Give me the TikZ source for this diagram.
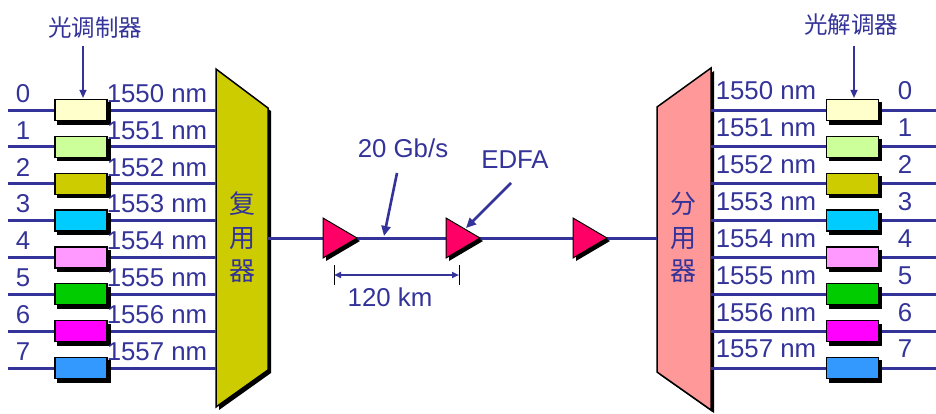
\documentclass[tikz,border=0pt]{standalone}
\usepackage{fontspec}
\setmainfont{Liberation Sans}
\newfontfamily\cjk{Noto Sans CJK SC}
\usetikzlibrary{arrows.meta,calc}
\definecolor{ink}{HTML}{333399}
\definecolor{muxfill}{HTML}{CCCC00}
\definecolor{demuxfill}{HTML}{FF9999}
\definecolor{ampfill}{HTML}{FF0066}
\definecolor{c0}{HTML}{FFFFCC}
\definecolor{c1}{HTML}{CCFF99}
\definecolor{c2}{HTML}{CCCC00}
\definecolor{c3}{HTML}{00CCFF}
\definecolor{c4}{HTML}{FF99FF}
\definecolor{c5}{HTML}{00CC00}
\definecolor{c6}{HTML}{FF00FF}
\definecolor{c7}{HTML}{3399FF}
\begin{document}
\begin{tikzpicture}[x=1pt,y=-1pt,
  txt/.style={text=ink, font=\fontsize{25.8}{30}\selectfont, inner sep=0pt},
  cjktxt/.style={text=ink, font=\cjk\fontsize{23.5}{26}\selectfont, inner sep=0pt},
  boxtxt/.style={text=ink, font=\cjk\fontsize{26}{33.5}\selectfont, inner sep=0pt, align=center},
  fiber/.style={draw=ink, line width=3pt},
  modbox/.style={draw=black, line width=1.2pt, minimum width=52pt, minimum height=21pt, inner sep=0pt},
  thinarrow/.style={draw=ink, line width=1.3pt, -{Triangle[length=8pt,width=7pt]}},
  bigarrow/.style={draw=ink, line width=2.6pt, -{Triangle[length=10pt,width=9pt]}},
  dimarrow/.style={draw=ink, line width=2pt, {Triangle[length=7pt,width=6pt]}-{Triangle[length=7pt,width=6pt]}},
  tick/.style={draw=black, line width=0.9pt},
  pics/ampli/.style={code={
    \fill[black] (-14,-17) -- (20,3) -- (-14,23) -- cycle;
    \filldraw[fill=ampfill,draw=black,line width=1pt] (-17,-20) -- (17,0) -- (-17,20) -- cycle;
  }}]
\useasboundingbox (0,0) rectangle (936,413);
\fill[white] (0,0) rectangle (936,413);

% multiplexer
\fill[black] (219,72) -- (271,111) -- (271,373) -- (219,410) -- cycle;
\filldraw[fill=muxfill,draw=black,line width=1.5pt] (216,69) -- (268,108) -- (268,370) -- (216,407) -- cycle;
\node[boxtxt] (mux) at (242,237.5) {复\\用\\器};

% demultiplexer
\fill[black] (660,110) -- (714,71) -- (714,413) -- (660,375) -- cycle;
\filldraw[fill=demuxfill,draw=black,line width=1.5pt] (657,107) -- (711,68) -- (711,410) -- (657,372) -- cycle;
\node[boxtxt] (demux) at (683,237.5) {分\\用\\器};

\foreach \i in {0,...,7} {
  \pgfmathsetmacro\yy{110+\i*36.86}
  \pgfmathtruncatemacro\wl{1550+\i}
  % left side
  \coordinate (inL\i) at (8,\yy);
  \coordinate (muxin\i) at (216,\yy);
  \draw[fiber] (inL\i) -- (muxin\i);
  \node[modbox, fill=black] (shm\i) at (84,\yy+3.5) {};
  \node[modbox, fill=c\i] (mod\i) at (81,\yy) {};
  \node[txt] (nl\i) at (23,\yy-16.5) {\i};
  \node[txt] (wl\i) at (157,\yy-16.5) {\wl\ nm};
  % right side
  \coordinate (demuxout\i) at (711,\yy);
  \coordinate (outR\i) at (936,\yy);
  \draw[fiber] (demuxout\i) -- (outR\i);
  \node[modbox, fill=black] (shd\i) at (855.5,\yy+3.5) {};
  \node[modbox, fill=c\i] (dem\i) at (852.5,\yy) {};
  \node[txt] (nr\i) at (905,\yy-19) {\i};
  \node[txt] (wr\i) at (766,\yy-19) {\wl\ nm};
}

% labels of modulators
\node[cjktxt] (modlbl) at (95,28) {光调制器};
\draw[thinarrow] ($(mod0.north)+(2,-53)$) -- ($(mod0.north)+(2,-1)$);
\node[cjktxt] (demlbl) at (851,25) {光解调器};
\draw[thinarrow] ($(dem0.north)+(1.5,-53)$) -- ($(dem0.north)+(1.5,-1)$);

% trunk fibre
\coordinate (muxout) at (268,238);
\coordinate (demuxin) at (657,238);
\draw[fiber] (muxout) -- (demuxin);
\pic at (340,238) {ampli};
\pic at (463,238) {ampli};
\pic at (590,238) {ampli};

% 20 Gb/s
\node[txt] (rate) at (403,148) {20 Gb/s};
\coordinate (rateTail) at (397,173);
\coordinate (rateTip) at (384,236);
\draw[bigarrow] (rateTail) -- (rateTip);

% EDFA
\node[txt] (edfa) at (515,160) {EDFA};
\coordinate (edfaTail) at (511,183);
\coordinate (edfaTip) at (466,228);
\draw[bigarrow] (edfaTail) -- (edfaTip);

% span dimension
\coordinate (dimA) at (334,275);
\coordinate (dimB) at (459,275);
\draw[tick] ($(dimA)+(0,-10)$) -- ($(dimA)+(0,10)$);
\draw[tick] ($(dimB)+(0,-10)$) -- ($(dimB)+(0,10)$);
\draw[dimarrow] (dimA) -- (dimB);
\node[txt] (span) at (390,297) {120 km};
\end{tikzpicture}
\end{document}
